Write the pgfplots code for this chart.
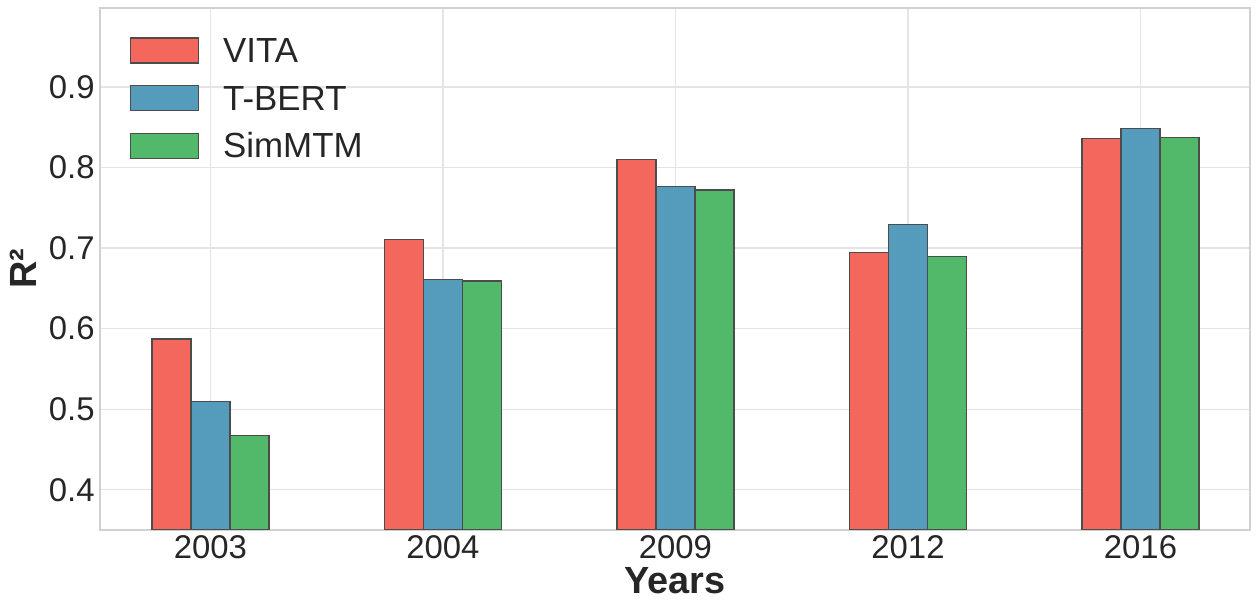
\documentclass[border=0pt]{standalone}
\usepackage{fontspec}
\setmainfont{Liberation Sans}
\usepackage{pgfplots}
\pgfplotsset{compat=1.18}
\definecolor{cvita}{RGB}{244,103,92}
\definecolor{ctbert}{RGB}{85,155,188}
\definecolor{csim}{RGB}{82,185,106}
\definecolor{txt}{RGB}{38,38,38}
\pgfplotsset{mylegend/.style={legend image code/.code={\draw[##1] (0bp,-6.25bp) rectangle (34bp,6.25bp);}}}
\begin{document}
\begin{tikzpicture}
\begin{axis}[
  scale only axis, width=575bp, height=261bp,
  xmin=-0.475, xmax=4.471, ymin=0.35, ymax=0.998,
  ybar=0pt, bar width=19.5bp,
  xtick={0,1,2,3,4}, xticklabels={2003,2004,2009,2012,2016},
  ytick={0.4,0.5,0.6,0.7,0.8,0.9},
  yticklabel style={/pgf/number format/fixed, /pgf/number format/fixed zerofill, /pgf/number format/precision=1},
  /pgf/number format/assume math mode=true,
  major tick length=0pt,
  grid=major, major grid style={draw=black!10, line width=0.6bp},
  axis line style={draw=black!18, line width=1bp},
  tick label style={font=\fontsize{16.5}{19.8}\selectfont, text=txt, inner sep=0pt},
  xticklabel style={yshift=-2.5bp},
  yticklabel style={xshift=-2.5bp},
  xlabel={Years}, ylabel={R²},
  label style={font=\fontsize{19}{23}\selectfont\bfseries, text=txt, inner sep=0pt},
  xlabel style={at={(axis description cs:0.5,0)}, anchor=north, yshift=-18.5bp},
  ylabel style={at={(axis description cs:-0.0548,0.5)}, anchor=south},
  legend style={at={(axis description cs:0.0261,0.9435)}, anchor=north west, draw=none, fill=none, inner sep=0pt, outer sep=0pt, row sep=10.75bp, font=\fontsize{17.5}{21}\selectfont, text=txt, nodes={inner sep=0pt, text height=12.5bp, text depth=0.5bp}, /tikz/every odd column/.append style={column sep=12bp}},
  legend cell align=left,
]
\addplot[fill=cvita, draw=black!70, line width=0.6bp, mylegend] coordinates {(0,0.587) (1,0.711) (2,0.810) (3,0.694) (4,0.836)};
\addplot[fill=ctbert, draw=black!70, line width=0.6bp, mylegend] coordinates {(0,0.510) (1,0.661) (2,0.776) (3,0.729) (4,0.848)};
\addplot[fill=csim, draw=black!70, line width=0.6bp, mylegend] coordinates {(0,0.467) (1,0.659) (2,0.772) (3,0.690) (4,0.837)};
\legend{VITA,T-BERT,SimMTM}
\end{axis}
\pgfresetboundingbox
\path ([shift={(-50bp,-42bp)}]current axis.south west) rectangle ([shift={(4.5bp,4bp)}]current axis.north east);
\end{tikzpicture}
\end{document}
